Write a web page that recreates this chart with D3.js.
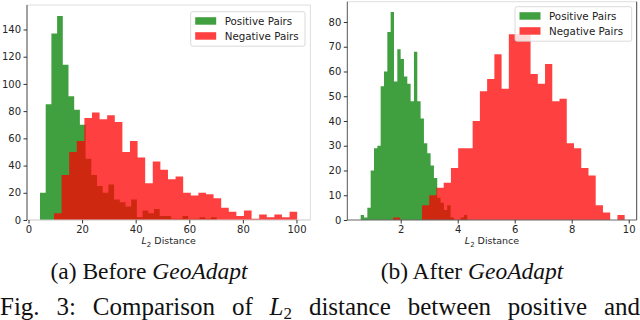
<!DOCTYPE html>
<html>
<head>
<meta charset="utf-8">
<script src="https://cdn.jsdelivr.net/npm/d3@7"></script>
<style>
  body { margin: 0; background: #fff; }
  text { font-family: "DejaVu Sans", sans-serif; }
</style>
</head>
<body>
<div class="canva"></div>
<script>
// (a) before GeoAdapt - histogram bins (start, width, counts)
const beforePosStart = 4.29, beforePosWidth = 2.127;
const beforePosCounts = [20, 85, 137, 150, 114, 91, 81, 70, 45, 33, 25, 20, 26, 15, 13, 10,
                         15, 2, 7, 5, 8, 3, 3, 1, 1, 3, 1, 1, 2, 1, 2];
const beforeNegStart = 9.51, beforeNegWidth = 2.836;
const beforeNegCounts = [5, 33, 50, 58, 75, 79, 74, 77, 72, 50, 58, 46, 27, 43, 37, 30,
                         32, 20, 18, 20, 19, 16, 9, 6, 3, 7, 1, 4, 2, 4, 2, 6];
const beforeXTicks = [0, 20, 40, 60, 80, 100];
const beforeYTicks = [0, 20, 40, 60, 80, 100, 120, 140];

// (b) after GeoAdapt
const afterPosStart = 0.596, afterPosWidth = 0.1168;
const afterPosCounts = [2, 1, 5, 20, 29, 30, 54, 60, 76, 84, 56, 69, 65, 58, 55, 48,
                        68, 48, 41, 31, 27, 22, 17, 9, 7, 4, 6, 1, 0, 0, 1, 2];
const afterNegStart = 1.73, afterNegWidth = 0.254;
const afterNegCounts = [1, 0, 0, 0, 6, 10, 13, 15, 21, 29, 29, 40, 52, 57, 67, 53,
                        75, 75, 75, 59, 55, 63, 48, 49, 31, 29, 21, 18, 6, 3, 0, 2];
const afterXTicks = [2, 4, 6, 8, 10];
const afterYTicks = [0, 10, 20, 30, 40, 50, 60, 70, 80];

const legendLabels = ["Positive Pairs", "Negative Pairs"];
const COLORS = ["green", "red"];
const ALPHA = 0.75;

const WIDTH = 640, HEIGHT = 320;

const svg = d3.select(".canva").append("svg")
    .attr("width", WIDTH)
    .attr("height", HEIGHT);

function binPoints(start, width, counts) {
    const pts = counts.map((c, i) => ({ x: start + i * width, c: c }));
    pts.push({ x: start + counts.length * width, c: counts[counts.length - 1] });
    return pts;
}

function drawPanel(opts) {
    const x = d3.scaleLinear().domain(opts.xDomain).range(opts.xRange);
    const y = d3.scaleLinear().domain(opts.yDomain).range(opts.yRange);
    const g = svg.append("g");

    const area = d3.area()
        .x(d => x(d.x))
        .y0(y(0))
        .y1(d => y(d.c))
        .curve(d3.curveStepAfter);

    opts.hists.forEach((h, i) => {
        g.append("path")
            .datum(binPoints(h.start, h.width, h.counts))
            .attr("d", area)
            .attr("fill", COLORS[i])
            .attr("fill-opacity", ALPHA);
    });

    // spines
    const [x0, x1] = opts.xRange, [y0, y1] = opts.yRange;
    g.append("line").attr("x1", x0).attr("x2", x1).attr("y1", y1).attr("y2", y1).attr("stroke", opts.spine.top);
    g.append("line").attr("x1", x1).attr("x2", x1).attr("y1", y0).attr("y2", y1).attr("stroke", opts.spine.right);
    g.append("line").attr("x1", x0).attr("x2", x1).attr("y1", y0).attr("y2", y0).attr("stroke", opts.spine.bottom);
    g.append("line").attr("x1", x0).attr("x2", x0).attr("y1", y0).attr("y2", y1).attr("stroke", opts.spine.left);

    const xAxis = g.append("g")
        .attr("transform", `translate(0,${y0})`)
        .call(d3.axisBottom(x).tickValues(opts.xTicks).tickSize(3.5).tickPadding(2));
    const yAxis = g.append("g")
        .attr("transform", `translate(${x0},0)`)
        .call(d3.axisLeft(y).tickValues(opts.yTicks).tickSize(3.5).tickPadding(2.5));
    [xAxis, yAxis].forEach(a => {
        a.select(".domain").remove();
        a.selectAll("line").attr("stroke", "#333");
        a.selectAll("text").attr("fill", "#262626").style("font-size", "10px")
            .style("font-family", "DejaVu Sans");
    });

    // x label: L_2 Distance
    const lab = g.append("text")
        .attr("x", (x0 + x1) / 2)
        .attr("y", 244)
        .attr("text-anchor", "middle")
        .attr("fill", "#262626")
        .style("font-size", "9.5px");
    lab.append("tspan").style("font-style", "italic").text("L");
    lab.append("tspan").attr("dy", 2.5).style("font-size", "7px").text("2");
    lab.append("tspan").attr("dy", -2.5).text(" Distance");

    // legend
    const lg = g.append("g").attr("transform", `translate(${opts.legend[0]},${opts.legend[1]})`);
    lg.append("rect")
        .attr("width", opts.legend[2]).attr("height", 34.5)
        .attr("rx", 2)
        .attr("fill", "white").attr("fill-opacity", 0.8)
        .attr("stroke", "#d0d0d0").attr("stroke-width", 0.8);
    legendLabels.forEach((t, i) => {
        lg.append("rect")
            .attr("x", 4.5).attr("y", 5.5 + i * 15)
            .attr("width", 21).attr("height", 7.5)
            .attr("fill", COLORS[i]).attr("fill-opacity", ALPHA);
        lg.append("text")
            .attr("x", 34).attr("y", 13 + i * 15)
            .attr("fill", "#222")
            .style("font-size", "10.3px")
            .text(t);
    });
}

drawPanel({
    xDomain: [-0.56, 105.2], xRange: [27, 310.4],
    yDomain: [0, 158], yRange: [220, 5],
    xTicks: beforeXTicks, yTicks: beforeYTicks,
    hists: [
        { start: beforePosStart, width: beforePosWidth, counts: beforePosCounts },
        { start: beforeNegStart, width: beforeNegWidth, counts: beforeNegCounts }
    ],
    spine: { top: "#dedede", right: "#dedede", bottom: "#c8c8c8", left: "#444" },
    legend: [190.7, 11.7, 114.3]
});

drawPanel({
    xDomain: [0.126, 10.28], xRange: [347.3, 636.7],
    yDomain: [0, 88.2], yRange: [220, 1.7],
    xTicks: afterXTicks, yTicks: afterYTicks,
    hists: [
        { start: afterPosStart, width: afterPosWidth, counts: afterPosCounts },
        { start: afterNegStart, width: afterNegWidth, counts: afterNegCounts }
    ],
    spine: { top: "#dedede", right: "#444", bottom: "#666", left: "#555" },
    legend: [515, 6.7, 116.7]
});

// sub captions
function subCaption(cx, prefix) {
    const t = svg.append("text")
        .attr("x", cx).attr("y", 279)
        .attr("text-anchor", "middle")
        .attr("fill", "#111")
        .style("font-family", "Liberation Serif")
        .style("font-size", "23.5px");
    t.append("tspan").text(prefix);
    t.append("tspan").style("font-style", "italic").text("GeoAdapt");
}
subCaption(149, "(a) Before ");
subCaption(472, "(b) After ");

// figure caption, justified to full width
const cap = svg.append("text")
    .attr("x", 0).attr("y", 315)
    .attr("fill", "#111")
    .style("font-family", "Liberation Serif")
    .style("font-size", "25px");
cap.append("tspan").text("Fig. 3: Comparison of ");
cap.append("tspan").style("font-style", "italic").text("L");
cap.append("tspan").attr("dy", 3.5).style("font-size", "17px").text("2");
cap.append("tspan").attr("dy", -3.5).text(" distance between positive and");
const capLen = cap.node().getComputedTextLength();
cap.attr("word-spacing", (WIDTH - capLen) / 8);
</script>
</body>
</html>
